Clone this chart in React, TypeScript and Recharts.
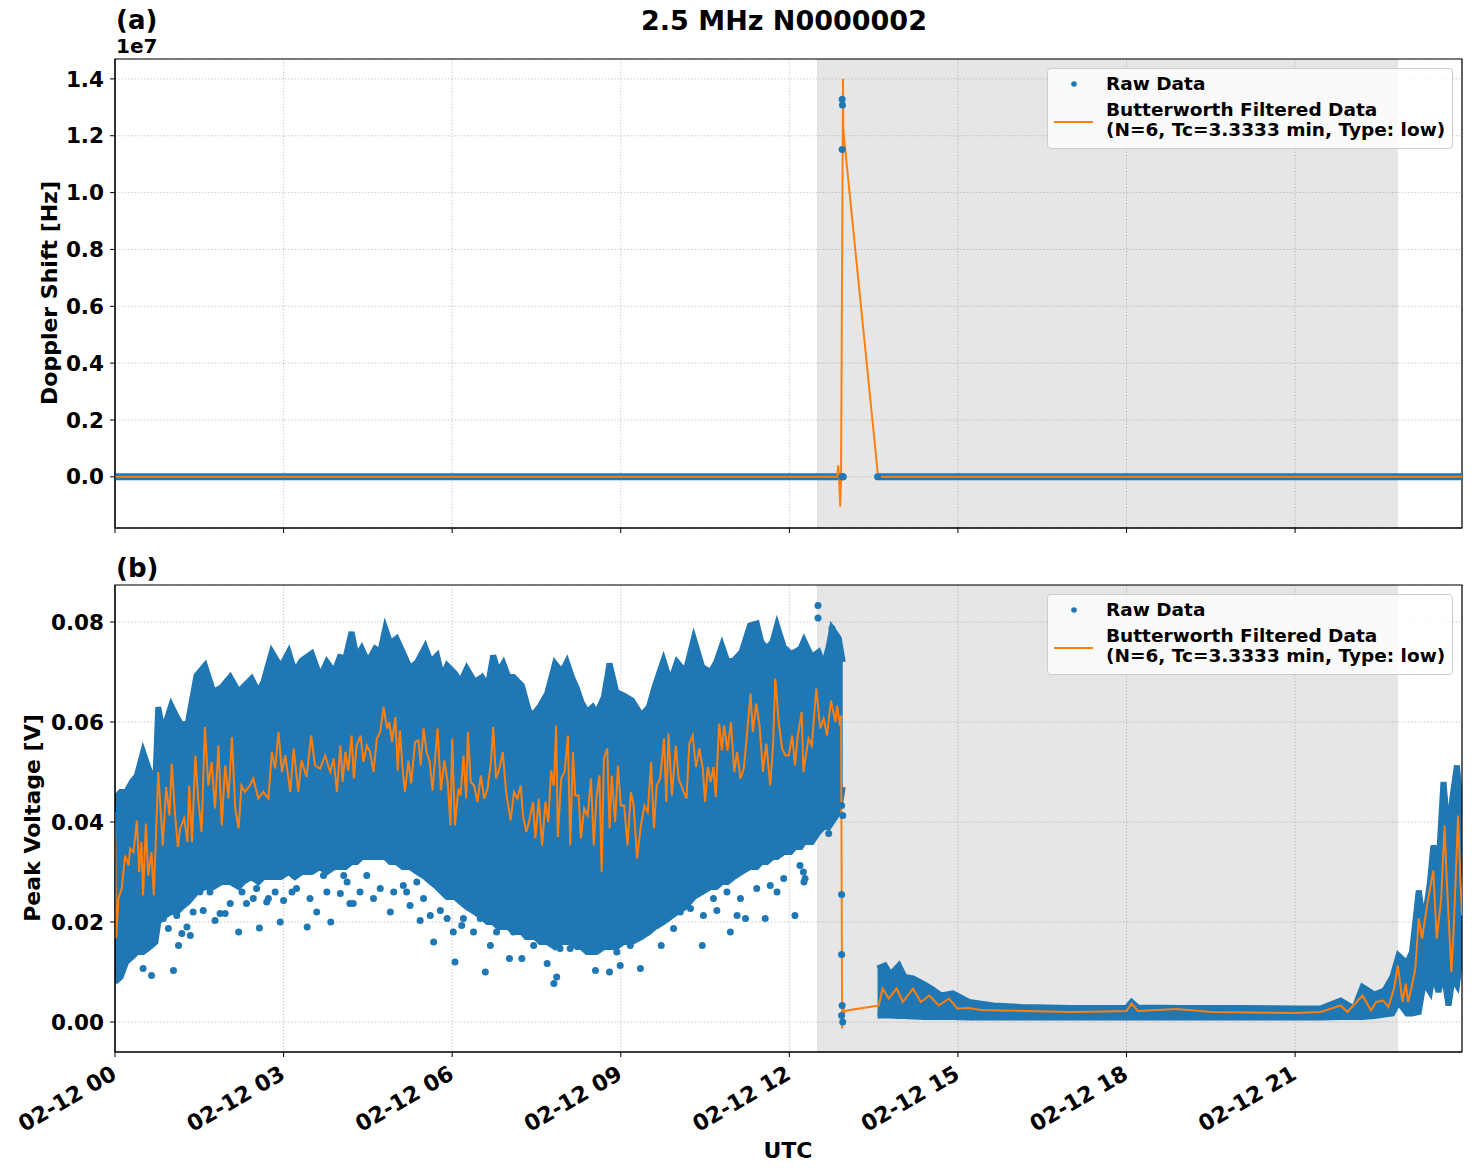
import React from "react";
import {
  ComposedChart,
  Line,
  Area,
  Scatter,
  XAxis,
  YAxis,
  CartesianGrid,
  ReferenceArea,
  Legend,
} from "recharts";

const FONT = "'DejaVu Sans', Verdana, sans-serif";
const BLUE = "#1f77b4";
const ORANGE = "#ff7f0e";

// shared time axis (hours after 02-12 00 UTC)
const xDomain: [number, number] = [0, 23.97];
const xTicks = [0, 3, 6, 9, 12, 15, 18, 21];
const xTickLabels = ["02-12 00", "02-12 03", "02-12 06", "02-12 09", "02-12 12", "02-12 15", "02-12 18", "02-12 21"];
const shadeStart = 12.5;
const shadeEnd = 22.82;

// panel (a): Doppler shift, in units of 1e7 Hz
const dopplerDomain: [number, number] = [-0.18, 1.47];
const dopplerTicks = [0, 0.2, 0.4, 0.6, 0.8, 1.0, 1.2, 1.4];
const dopplerRawFlatEarly: [number, number][] = [[0, 0], [12.96, 0]];
const dopplerRawFlatLate: [number, number][] = [[13.57, 0], [23.97, 0]];
const dopplerRawSpike: [number, number][] = [
  [12.94, 1.328], [12.945, 1.308], [12.94, 1.152],
  [12.93, 0], [12.95, 0], [12.96, 0], [13.57, 0],
];
const dopplerFiltered: [number, number][] = [
  [0, 0], [12.85, 0], [12.87, 0.04], [12.89, -0.03], [12.905, -0.104], [12.92, 0.0],
  [12.955, 1.4], [12.96, 1.21], [12.965, 1.22], [12.975, 1.19], [13.58, 0], [23.97, 0],
];

// panel (b): peak voltage [V]
const voltDomain: [number, number] = [-0.006, 0.0874];
const voltTicks = [0, 0.02, 0.04, 0.06, 0.08];

// dense part of the raw scatter: [hour, low, high]
const voltBandEarly: [number, number, number][] = [
  [0, 0.008, 0.0447], [0.1, 0.009, 0.046], [0.2, 0.012, 0.046], [0.3, 0.013, 0.048],
  [0.39, 0.014, 0.0493], [0.5, 0.014, 0.054], [0.62, 0.015, 0.05], [0.72, 0.016, 0.049],
  [0.77, 0.02, 0.063], [0.85, 0.021, 0.058], [1.0, 0.022, 0.0633], [1.1, 0.022, 0.061],
  [1.19, 0.023, 0.0593], [1.3, 0.024, 0.06], [1.45, 0.026, 0.0693], [1.6, 0.027, 0.0713],
  [1.75, 0.027, 0.066], [1.9, 0.028, 0.067], [2.05, 0.028, 0.069], [2.2, 0.027, 0.066],
  [2.28, 0.028, 0.067], [2.43, 0.029, 0.0687], [2.55, 0.028, 0.066], [2.64, 0.029, 0.068],
  [2.79, 0.029, 0.074], [2.95, 0.029, 0.071], [3.09, 0.03, 0.074], [3.2, 0.029, 0.07],
  [3.32, 0.03, 0.0723], [3.5, 0.03, 0.0737], [3.65, 0.031, 0.069], [3.77, 0.03, 0.072],
  [3.9, 0.031, 0.07], [4.0, 0.031, 0.073], [4.1, 0.031, 0.0727], [4.21, 0.032, 0.078],
  [4.3, 0.032, 0.073], [4.39, 0.033, 0.0747], [4.5, 0.033, 0.072], [4.63, 0.033, 0.0747],
  [4.72, 0.033, 0.074], [4.81, 0.033, 0.0787], [4.9, 0.032, 0.0757], [5.01, 0.032, 0.0767],
  [5.12, 0.031, 0.074], [5.25, 0.031, 0.0707], [5.38, 0.03, 0.072], [5.52, 0.029, 0.075],
  [5.62, 0.028, 0.072], [5.73, 0.027, 0.0733], [5.82, 0.026, 0.069], [5.91, 0.025, 0.0713],
  [6.05, 0.025, 0.0697], [6.15, 0.024, 0.068], [6.26, 0.023, 0.0707], [6.4, 0.022, 0.068],
  [6.53, 0.021, 0.069], [6.63, 0.02, 0.067], [6.73, 0.02, 0.0733], [6.82, 0.019, 0.07],
  [6.91, 0.019, 0.0717], [7.0, 0.019, 0.069], [7.09, 0.018, 0.069], [7.24, 0.018, 0.0673],
  [7.32, 0.017, 0.064], [7.39, 0.017, 0.0613], [7.48, 0.017, 0.062], [7.57, 0.016, 0.0633],
  [7.69, 0.016, 0.0657], [7.83, 0.015, 0.0717], [7.95, 0.016, 0.07], [8.04, 0.016, 0.072],
  [8.13, 0.016, 0.069], [8.22, 0.015, 0.0667], [8.3, 0.015, 0.064], [8.4, 0.014, 0.062],
  [8.5, 0.014, 0.063], [8.57, 0.014, 0.0617], [8.7, 0.015, 0.065], [8.8, 0.015, 0.0717],
  [8.92, 0.015, 0.066], [9.05, 0.016, 0.0653], [9.2, 0.016, 0.0643], [9.37, 0.017, 0.0613],
  [9.5, 0.018, 0.063], [9.61, 0.019, 0.0673], [9.76, 0.02, 0.0723], [9.88, 0.021, 0.068],
  [10.0, 0.022, 0.072], [10.15, 0.023, 0.07], [10.3, 0.025, 0.0767], [10.45, 0.026, 0.071],
  [10.6, 0.027, 0.07], [10.7, 0.027, 0.072], [10.8, 0.028, 0.0753], [10.9, 0.028, 0.072],
  [11.01, 0.029, 0.0723], [11.15, 0.03, 0.074], [11.3, 0.031, 0.0793], [11.42, 0.031, 0.0797],
  [11.5, 0.032, 0.076], [11.6, 0.032, 0.0747], [11.7, 0.033, 0.076], [11.78, 0.033, 0.0793],
  [11.9, 0.034, 0.075], [12.02, 0.034, 0.0737], [12.1, 0.035, 0.074], [12.2, 0.035, 0.0747],
  [12.26, 0.036, 0.0763], [12.4, 0.036, 0.073], [12.52, 0.038, 0.074], [12.61, 0.039, 0.0713],
  [12.7, 0.039, 0.075], [12.76, 0.04, 0.0787], [12.88, 0.042, 0.0767], [12.95, 0.047, 0.072],
];

const voltBandLate: [number, number, number][] = [
  [13.57, 0.0013, 0.0107], [13.7, 0.0013, 0.0113], [13.8, 0.0013, 0.0095], [13.95, 0.0012, 0.0113],
  [14.05, 0.0012, 0.009], [14.2, 0.0011, 0.0087], [14.41, 0.001, 0.0075], [14.55, 0.001, 0.0065],
  [14.7, 0.001, 0.0053], [14.91, 0.001, 0.0057], [15.2, 0.0009, 0.004], [15.63, 0.0009, 0.0033],
  [16.13, 0.0009, 0.003], [17.0, 0.0009, 0.0028], [18.0, 0.0009, 0.0028], [18.09, 0.0009, 0.004],
  [18.2, 0.0009, 0.0029], [19.0, 0.0009, 0.0028], [20.06, 0.0009, 0.0028], [21.0, 0.0009, 0.0027],
  [21.45, 0.0009, 0.0027], [21.81, 0.001, 0.0043], [22.05, 0.001, 0.0027], [22.2, 0.001, 0.007],
  [22.41, 0.0012, 0.0055], [22.59, 0.0015, 0.0063], [22.73, 0.0017, 0.009], [22.84, 0.004, 0.0133],
  [22.99, 0.0017, 0.0117], [23.08, 0.0017, 0.014], [23.2, 0.002, 0.0263], [23.29, 0.008, 0.0193],
  [23.4, 0.006, 0.028], [23.46, 0.01, 0.0353], [23.55, 0.006, 0.0307], [23.64, 0.01, 0.048],
  [23.73, 0.0033, 0.0367], [23.8, 0.0087, 0.045], [23.88, 0.0073, 0.0513], [23.97, 0.0153, 0.04],
];

// scattered raw points below / outside the dense band: [hour, value]
const voltRawOutliers: [number, number][] = [
  [0.5, 0.0107], [0.65, 0.0093], [1.04, 0.0103], [1.13, 0.0153], [1.19, 0.0177], [1.34, 0.0173],
  [1.51, 0.026], [1.57, 0.0223], [1.78, 0.0203], [1.96, 0.0217], [2.2, 0.018], [2.46, 0.0247],
  [2.57, 0.0188], [2.73, 0.0247], [2.94, 0.02], [3.23, 0.0267], [3.42, 0.019], [3.71, 0.0293],
  [3.84, 0.02], [4.18, 0.0237], [4.24, 0.0237], [4.6, 0.0247], [4.9, 0.022], [5.19, 0.026],
  [5.37, 0.028], [5.43, 0.0203], [5.67, 0.016], [5.79, 0.0223], [6.05, 0.012], [6.17, 0.0193],
  [6.59, 0.01], [6.79, 0.018], [7.02, 0.0127], [7.24, 0.0127], [7.45, 0.0153], [7.69, 0.0117],
  [7.81, 0.0077], [7.86, 0.009], [8.1, 0.0147], [8.28, 0.0153], [8.55, 0.0103], [8.8, 0.01],
  [8.99, 0.0113], [9.35, 0.0107], [9.72, 0.0153], [9.94, 0.0187], [10.45, 0.0153], [10.71, 0.0223],
  [10.95, 0.018], [11.07, 0.0213], [11.22, 0.0207], [11.57, 0.0207], [11.78, 0.026], [12.1, 0.0213],
  [12.19, 0.0313], [12.25, 0.03], [12.28, 0.0287], [12.7, 0.0377], [12.51, 0.0833], [12.51, 0.0808],
  [12.76, 0.0787], [12.93, 0.0433], [12.95, 0.0413], [12.93, 0.0255], [12.93, 0.0135],
  [12.94, 0.0033], [12.93, 0.0013], [12.95, 0.0],
  [0.86, 0.0207], [0.95, 0.0187], [1.1, 0.0213], [1.28, 0.019], [1.39, 0.022], [1.69, 0.026],
  [1.87, 0.0217], [2.05, 0.0237], [2.26, 0.026], [2.34, 0.0237], [2.52, 0.0267], [2.7, 0.024],
  [2.85, 0.026], [3.0, 0.0243], [3.15, 0.026], [3.47, 0.0247], [3.59, 0.022], [3.77, 0.026],
  [4.01, 0.0257], [4.07, 0.0293], [4.13, 0.028], [4.36, 0.026], [4.48, 0.0293], [4.72, 0.0267],
  [4.96, 0.026], [5.13, 0.0273], [5.25, 0.0233], [5.49, 0.0247], [5.61, 0.0213], [5.91, 0.0207],
  [6.02, 0.018], [6.2, 0.0207], [6.38, 0.018], [6.5, 0.0207], [6.68, 0.0153], [6.85, 0.0207],
  [7.09, 0.018], [7.33, 0.0193], [7.57, 0.018], [7.92, 0.0147], [8.16, 0.018], [8.22, 0.018],
  [8.46, 0.0153], [8.69, 0.0167], [8.93, 0.014], [9.17, 0.0153], [9.46, 0.018], [9.64, 0.0193],
  [9.82, 0.0207], [10.06, 0.022], [10.24, 0.0227], [10.47, 0.0213], [10.65, 0.0247], [10.89, 0.026],
  [11.13, 0.0247], [11.42, 0.0267], [11.66, 0.0273], [11.9, 0.0287], [12.26, 0.028],
];

const voltFiltered: [number, number][] = [
  [0, 0.042], [0.02, 0.0167], [0.06, 0.0247], [0.12, 0.0267], [0.18, 0.0333], [0.24, 0.0313],
  [0.27, 0.0347], [0.33, 0.034], [0.39, 0.0403], [0.43, 0.03], [0.47, 0.036], [0.5, 0.0253],
  [0.55, 0.0397], [0.59, 0.0293], [0.65, 0.034], [0.69, 0.0253], [0.77, 0.05], [0.85, 0.0353],
  [0.91, 0.047], [0.97, 0.0413], [1.01, 0.0517], [1.07, 0.0413], [1.12, 0.035], [1.16, 0.0387],
  [1.23, 0.0407], [1.29, 0.036], [1.32, 0.0473], [1.37, 0.036], [1.43, 0.0533], [1.48, 0.0447],
  [1.54, 0.038], [1.6, 0.059], [1.66, 0.0473], [1.72, 0.052], [1.78, 0.0427], [1.84, 0.0553],
  [1.9, 0.0393], [1.96, 0.0513], [2.02, 0.0447], [2.08, 0.057], [2.14, 0.0427], [2.2, 0.0387],
  [2.25, 0.0473], [2.31, 0.046], [2.4, 0.0473], [2.46, 0.0487], [2.55, 0.0447], [2.64, 0.046],
  [2.73, 0.0447], [2.79, 0.054], [2.85, 0.0507], [2.91, 0.058], [2.97, 0.05], [3.03, 0.0533],
  [3.12, 0.046], [3.18, 0.0547], [3.26, 0.046], [3.32, 0.0523], [3.41, 0.049], [3.49, 0.0573],
  [3.56, 0.0513], [3.65, 0.0507], [3.74, 0.0533], [3.83, 0.05], [3.89, 0.0527], [3.95, 0.046],
  [4.01, 0.0553], [4.05, 0.048], [4.1, 0.054], [4.15, 0.0503], [4.21, 0.0573], [4.25, 0.0487],
  [4.3, 0.0553], [4.37, 0.0573], [4.42, 0.052], [4.48, 0.0553], [4.54, 0.054], [4.6, 0.05],
  [4.66, 0.0567], [4.72, 0.058], [4.78, 0.063], [4.84, 0.0587], [4.88, 0.06], [4.93, 0.056],
  [4.99, 0.061], [5.03, 0.0503], [5.07, 0.0583], [5.12, 0.0503], [5.16, 0.046], [5.22, 0.0523],
  [5.27, 0.0477], [5.34, 0.056], [5.4, 0.0563], [5.44, 0.0513], [5.49, 0.0587], [5.55, 0.0537],
  [5.6, 0.052], [5.65, 0.0463], [5.74, 0.0587], [5.8, 0.0463], [5.86, 0.0523], [5.92, 0.048],
  [5.97, 0.0393], [6.0, 0.0567], [6.05, 0.0393], [6.11, 0.0467], [6.15, 0.0453], [6.2, 0.0533],
  [6.25, 0.0447], [6.28, 0.058], [6.33, 0.048], [6.39, 0.0473], [6.45, 0.044], [6.51, 0.0493],
  [6.57, 0.0447], [6.63, 0.0467], [6.69, 0.052], [6.73, 0.059], [6.78, 0.0487], [6.84, 0.0507],
  [6.9, 0.054], [6.96, 0.046], [7.04, 0.0403], [7.1, 0.046], [7.16, 0.0447], [7.22, 0.0473],
  [7.26, 0.0413], [7.32, 0.038], [7.38, 0.0407], [7.44, 0.044], [7.48, 0.0367], [7.54, 0.0447],
  [7.6, 0.0353], [7.66, 0.044], [7.71, 0.04], [7.76, 0.0503], [7.81, 0.0473], [7.85, 0.0593],
  [7.88, 0.037], [7.94, 0.0487], [8.0, 0.05], [8.06, 0.0573], [8.1, 0.0353], [8.15, 0.054],
  [8.19, 0.0453], [8.25, 0.0453], [8.29, 0.0367], [8.35, 0.0427], [8.41, 0.0413], [8.47, 0.0487],
  [8.52, 0.0353], [8.57, 0.0453], [8.62, 0.0493], [8.66, 0.03], [8.7, 0.0527], [8.76, 0.0547],
  [8.8, 0.0387], [8.84, 0.0493], [8.9, 0.04], [8.95, 0.0513], [9.0, 0.0433], [9.06, 0.0433],
  [9.12, 0.0353], [9.18, 0.046], [9.23, 0.0433], [9.29, 0.0327], [9.35, 0.0387], [9.42, 0.0433],
  [9.48, 0.042], [9.54, 0.052], [9.59, 0.0387], [9.64, 0.0473], [9.7, 0.0487], [9.77, 0.0567],
  [9.81, 0.044], [9.85, 0.0577], [9.91, 0.0453], [9.98, 0.0553], [10.03, 0.0487], [10.12, 0.046],
  [10.17, 0.0447], [10.22, 0.0557], [10.28, 0.0573], [10.34, 0.051], [10.4, 0.0547], [10.46, 0.0507],
  [10.5, 0.044], [10.55, 0.051], [10.6, 0.048], [10.65, 0.051], [10.69, 0.045], [10.75, 0.0597],
  [10.8, 0.0543], [10.84, 0.0593], [10.9, 0.0543], [10.96, 0.06], [11.02, 0.05], [11.07, 0.054],
  [11.13, 0.0487], [11.19, 0.0507], [11.25, 0.058], [11.31, 0.0657], [11.35, 0.058], [11.41, 0.0637],
  [11.47, 0.0593], [11.53, 0.05], [11.59, 0.0557], [11.66, 0.0473], [11.71, 0.0553], [11.75, 0.0687],
  [11.81, 0.06], [11.87, 0.0547], [11.93, 0.0533], [11.99, 0.0533], [12.05, 0.0573], [12.1, 0.0513],
  [12.15, 0.0573], [12.22, 0.062], [12.25, 0.05], [12.34, 0.0567], [12.4, 0.0553], [12.48, 0.0667],
  [12.55, 0.0587], [12.61, 0.0607], [12.67, 0.0573], [12.74, 0.0643], [12.82, 0.06], [12.85, 0.0633],
  [12.9, 0.0593], [12.92, 0.0613], [12.94, -0.0013], [12.96, 0.003], [12.98, 0.002], [13.02, 0.0023],
  [13.59, 0.0033], [13.66, 0.0067], [13.77, 0.0047], [13.91, 0.0067], [14.02, 0.004], [14.2, 0.0067],
  [14.34, 0.004], [14.49, 0.0053], [14.66, 0.0033], [14.84, 0.0047], [14.99, 0.0027], [15.2, 0.0028],
  [15.41, 0.0024], [15.77, 0.0023], [16.2, 0.0022], [17.0, 0.002], [17.6, 0.0021], [18.0, 0.0022],
  [18.09, 0.0037], [18.2, 0.0022], [18.9, 0.0026], [19.5, 0.002], [20.2, 0.0019], [21.0, 0.0018],
  [21.45, 0.002], [21.81, 0.0033], [21.93, 0.002], [22.2, 0.0053], [22.35, 0.0023], [22.44, 0.004],
  [22.57, 0.0043], [22.66, 0.003], [22.76, 0.0067], [22.83, 0.0113], [22.91, 0.004], [22.97, 0.0077],
  [23.01, 0.004], [23.08, 0.0073], [23.14, 0.0107], [23.2, 0.0207], [23.26, 0.0167], [23.34, 0.0227],
  [23.4, 0.0267], [23.46, 0.0303], [23.52, 0.0167], [23.6, 0.0247], [23.66, 0.0393], [23.7, 0.028],
  [23.78, 0.01], [23.82, 0.018], [23.9, 0.0413], [23.94, 0.0287], [23.97, 0.0213],
];

const toRows = (pairs: [number, number][]) => pairs.map(([h, v]) => ({ h, v }));
const toBand = (rows: [number, number, number][]) => rows.map(([h, lo, hi]) => ({ h, range: [lo, hi] }));

const tickStyle = { fill: "#000", fontSize: 21.5, fontWeight: "bold", fontFamily: FONT };
const gridProps = { stroke: "#b0b0b0", strokeDasharray: "1.2 2", strokeWidth: 0.8 };

const dotShape = (props: any) => <circle cx={props.cx} cy={props.cy} r={3.5} fill={BLUE} />;

function LegendBox() {
  return (
    <div
      style={{
        position: "relative",
        width: 406,
        height: 81,
        boxSizing: "border-box",
        border: "1px solid #cccccc",
        borderRadius: 4,
        background: "rgba(255,255,255,0.8)",
        fontFamily: FONT,
        fontWeight: "bold",
        fontSize: 18.5,
        color: "#000",
      }}
    >
      <svg style={{ position: "absolute", left: 0, top: 0 }} width={60} height={81}>
        <circle cx={26} cy={15} r={2.8} fill={BLUE} />
        <line x1={6} x2={45} y1={53} y2={53} stroke={ORANGE} strokeWidth={2} />
      </svg>
      <div style={{ position: "absolute", left: 58, top: 4, lineHeight: "21px", whiteSpace: "nowrap" }}>Raw Data</div>
      <div style={{ position: "absolute", left: 58, top: 31, lineHeight: "20px", whiteSpace: "nowrap" }}>
        Butterworth Filtered Data
        <br />
        (N=6, Tc=3.3333 min, Type: low)
      </div>
    </div>
  );
}

const XTick = (props: any) => {
  const { x, y, payload } = props;
  const label = xTickLabels[xTicks.indexOf(payload.value)];
  const ax = x + 3;
  const ay = y + 19;
  return (
    <text x={ax} y={ay} textAnchor="end" transform={`rotate(-30, ${ax}, ${ay})`} style={{ ...tickStyle, fontSize: 22 } as any}>
      {label}
    </text>
  );
};

function DopplerPanel() {
  return (
    <ComposedChart width={1472} height={540} margin={{ top: 59, right: 10, bottom: 0, left: 0 }}>
      <CartesianGrid {...gridProps} />
      <XAxis
        type="number"
        dataKey="h"
        domain={xDomain}
        ticks={xTicks}
        interval={0}
        allowDataOverflow
        height={12}
        tickSize={5}
        tickFormatter={() => ""}
        stroke="#000"
      />
      <YAxis
        type="number"
        domain={dopplerDomain}
        ticks={dopplerTicks}
        allowDataOverflow
        width={115}
        tickSize={5}
        tickMargin={6}
        interval={0}
        stroke="#000"
        tick={tickStyle}
        tickFormatter={(v: number) => v.toFixed(1)}
      />
      <ReferenceArea x1={shadeStart} x2={shadeEnd} fill="#808080" fillOpacity={0.2} stroke="#808080" strokeOpacity={0.15} ifOverflow="hidden" />
      <Line data={toRows(dopplerRawFlatEarly)} dataKey="v" stroke={BLUE} strokeWidth={7} dot={false} activeDot={false} type="linear" isAnimationActive={false} />
      <Line data={toRows(dopplerRawFlatLate)} dataKey="v" stroke={BLUE} strokeWidth={7} dot={false} activeDot={false} type="linear" isAnimationActive={false} />
      <Scatter data={toRows(dopplerRawSpike)} dataKey="v" fill={BLUE} shape={dotShape} isAnimationActive={false} />
      <Line data={toRows(dopplerFiltered)} dataKey="v" stroke={ORANGE} strokeWidth={2} dot={false} activeDot={false} type="linear" isAnimationActive={false} />
      <ReferenceArea x1={xDomain[0]} x2={xDomain[1]} y1={dopplerDomain[0]} y2={dopplerDomain[1]} fill="none" stroke="#000" strokeWidth={1.2} ifOverflow="visible" />
      <Legend layout="vertical" align="center" verticalAlign="middle" wrapperStyle={{ top: 68, left: 1047, width: 406, height: 81 }} content={() => <LegendBox />} />
    </ComposedChart>
  );
}

function VoltagePanel() {
  return (
    <ComposedChart width={1472} height={632} margin={{ top: 45, right: 10, bottom: 0, left: 0 }}>
      <CartesianGrid {...gridProps} />
      <XAxis
        type="number"
        dataKey="h"
        domain={xDomain}
        ticks={xTicks}
        interval={0}
        allowDataOverflow
        height={120}
        tickSize={5}
        stroke="#000"
        tick={(p: any) => <XTick {...p} />}
      />
      <YAxis
        type="number"
        domain={voltDomain}
        ticks={voltTicks}
        allowDataOverflow
        width={115}
        tickSize={5}
        tickMargin={6}
        interval={0}
        stroke="#000"
        tick={tickStyle}
        tickFormatter={(v: number) => v.toFixed(2)}
      />
      <ReferenceArea x1={shadeStart} x2={shadeEnd} fill="#808080" fillOpacity={0.2} stroke="#808080" strokeOpacity={0.15} ifOverflow="hidden" />
      <Area data={toBand(voltBandEarly)} dataKey="range" type="linear" fill={BLUE} fillOpacity={1} stroke={BLUE} strokeWidth={6} dot={false} activeDot={false} isAnimationActive={false} />
      <Area data={toBand(voltBandLate)} dataKey="range" type="linear" fill={BLUE} fillOpacity={1} stroke={BLUE} strokeWidth={6} dot={false} activeDot={false} isAnimationActive={false} />
      <Scatter data={toRows(voltRawOutliers)} dataKey="v" fill={BLUE} shape={dotShape} isAnimationActive={false} />
      <Line data={toRows(voltFiltered)} dataKey="v" stroke={ORANGE} strokeWidth={2} dot={false} activeDot={false} type="linear" isAnimationActive={false} />
      <ReferenceArea x1={xDomain[0]} x2={xDomain[1]} y1={voltDomain[0]} y2={voltDomain[1]} fill="none" stroke="#000" strokeWidth={1.2} ifOverflow="visible" />
      <Legend layout="vertical" align="center" verticalAlign="middle" wrapperStyle={{ top: 54, left: 1047, width: 406, height: 81 }} content={() => <LegendBox />} />
    </ComposedChart>
  );
}

export default function App() {
  const bold = { fontFamily: FONT, fontWeight: "bold", fill: "#000" } as any;
  return (
    <div style={{ position: "absolute", left: 0, top: 0, width: 1472, height: 1172, background: "#fff" }}>
      <div style={{ position: "absolute", left: 0, top: 0 }}>
        <DopplerPanel />
      </div>
      <div style={{ position: "absolute", left: 0, top: 540 }}>
        <VoltagePanel />
      </div>
      <svg width={1472} height={1172} style={{ position: "absolute", left: 0, top: 0, pointerEvents: "none" }}>
        <text x={784} y={30} textAnchor="middle" fontSize={27} style={bold}>2.5 MHz N0000002</text>
        <text x={116} y={29} fontSize={26} style={bold}>(a)</text>
        <text x={116} y={53} fontSize={20} style={bold}>1e7</text>
        <text x={116} y={577} fontSize={26} style={bold}>(b)</text>
        <text x={57} y={293} textAnchor="middle" fontSize={22} transform="rotate(-90, 57, 293)" style={bold}>Doppler Shift [Hz]</text>
        <text x={40} y={818} textAnchor="middle" fontSize={22} transform="rotate(-90, 40, 818)" style={bold}>Peak Voltage [V]</text>
        <text x={788} y={1158} textAnchor="middle" fontSize={22} style={bold}>UTC</text>
      </svg>
    </div>
  );
}
